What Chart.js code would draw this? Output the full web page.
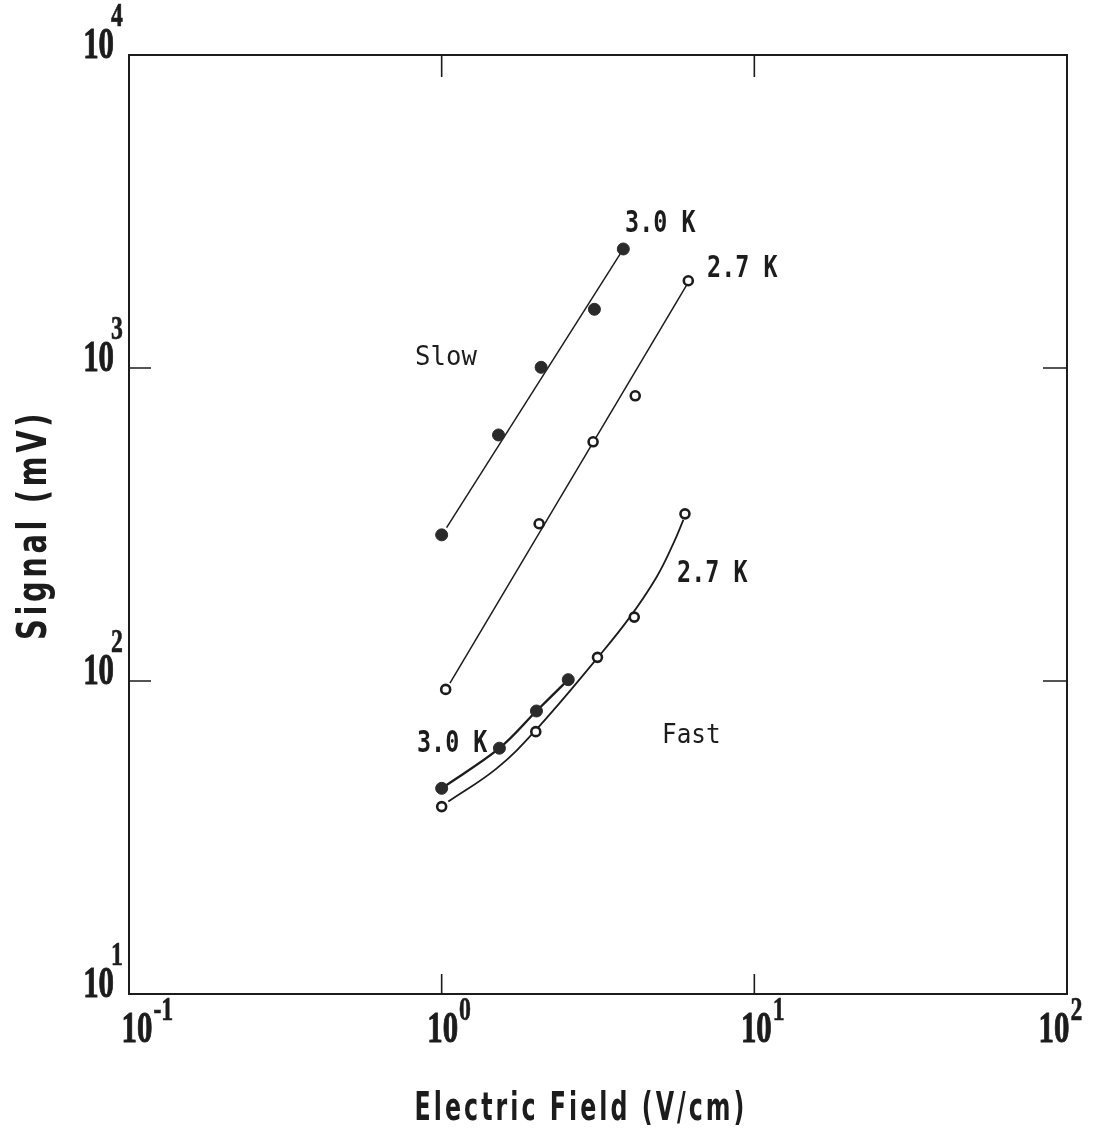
<!DOCTYPE html>
<html>
<head>
<meta charset="utf-8">
<script src="https://cdn.jsdelivr.net/npm/chart.js@4.4.0/dist/chart.umd.min.js"></script>
<style>
  body { margin: 0; background: #fff; }
  canvas { display: block; }
</style>
</head>
<body>
<canvas id="signalChart" width="1103" height="1132"></canvas>
<script>
// 資料 (Electric Field V/cm, Signal mV)
const slowField30 = [1.0, 1.52, 2.08, 3.08, 3.81];
const slowSignal30 = [293, 611, 1005, 1540, 2400];
const slowFitField30 = [1.037, 3.72];
const slowFitSignal30 = [309, 2312];

const slowField27 = [1.03, 2.05, 3.05, 4.16, 6.15];
const slowSignal27 = [94, 318, 581, 815, 1900];
const slowFitField27 = [1.063, 6.08];
const slowFitSignal27 = [98.5, 1842];

const fastField30 = [1.0, 1.53, 2.01, 2.54];
const fastSignal30 = [45.4, 61, 80.2, 101];

const fastField27 = [1.0, 2.0, 3.15, 4.13, 6.0];
const fastSignal27 = [39.7, 68.9, 119, 160, 342];
// 2.7 K fast 的手繪曲線
const fastCurveField27 = [1.05, 1.50, 2.00, 3.16, 4.00, 4.87, 5.51, 5.93];
const fastCurveSignal27 = [41.2, 52.6, 69.7, 119, 160, 215, 275, 327];

// 刻度
const xTicks = [0.1, 1, 10, 100];
const xTickExp = ['-1', '0', '1', '2'];
const yTicks = [10, 100, 1000, 10000];
const yTickExp = ['1', '2', '3', '4'];
const xInnerTicks = [1, 10];
const yInnerTicks = [100, 1000];

// 圖內文字 (資料座標)
const curveLabels = [
  { text: '3.0 K', x: 3.86, y: 2720, bold: true },
  { text: '2.7 K', x: 7.06, y: 1953, bold: true },
  { text: 'Slow', x: 0.822, y: 1022, bold: false },
  { text: '2.7 K', x: 5.66, y: 207, bold: true },
  { text: '3.0 K', x: 0.834, y: 59.3, bold: true },
  { text: 'Fast', x: 5.07, y: 63.4, bold: false }
];

function toPoints(xs, ys) {
  return xs.map((v, i) => ({ x: v, y: ys[i] }));
}

const INK = '#1c1c1c';

function drawScaled(ctx, text, x, y, font, sx, align, stroke) {
  ctx.save();
  ctx.font = font;
  ctx.translate(x, y);
  ctx.scale(sx, 1);
  ctx.textAlign = align || 'left';
  ctx.textBaseline = 'alphabetic';
  ctx.fillText(text, 0, 0);
  if (stroke) {
    ctx.lineWidth = stroke;
    ctx.strokeText(text, 0, 0);
  }
  ctx.restore();
}

// 依目標寬度壓縮文字
function drawFitted(ctx, text, cx, cy, width, font, spacing, rotate) {
  ctx.save();
  ctx.font = font;
  if ('letterSpacing' in ctx) ctx.letterSpacing = spacing + 'px';
  const natural = ctx.measureText(text).width;
  ctx.translate(cx, cy);
  if (rotate) ctx.rotate(-Math.PI / 2);
  ctx.scale(width / natural, 1);
  ctx.textAlign = 'left';
  ctx.textBaseline = 'alphabetic';
  ctx.fillText(text, -natural / 2, 0);
  ctx.restore();
}

const framePlugin = {
  id: 'frame',
  afterDatasetsDraw(chart) {
    const ctx = chart.ctx;
    const a = chart.chartArea;
    const sx = chart.scales.x;
    const sy = chart.scales.y;

    ctx.save();
    ctx.strokeStyle = INK;
    ctx.fillStyle = INK;
    ctx.lineWidth = 2;
    ctx.strokeRect(a.left, a.top, a.right - a.left, a.bottom - a.top);

    ctx.lineWidth = 1.6;
    ctx.beginPath();
    xInnerTicks.forEach(v => {
      const px = sx.getPixelForValue(v);
      ctx.moveTo(px, a.bottom); ctx.lineTo(px, a.bottom - 20);
      ctx.moveTo(px, a.top); ctx.lineTo(px, a.top + 22);
    });
    yInnerTicks.forEach(v => {
      const py = sy.getPixelForValue(v);
      ctx.moveTo(a.left, py); ctx.lineTo(a.left + 22, py);
      ctx.moveTo(a.right, py); ctx.lineTo(a.right - 24, py);
    });
    ctx.stroke();

    // x 軸刻度文字
    const xShift = [8, 1, 2, -13];
    const baseFont = 'bold 44px "Liberation Serif", serif';
    const expFont = 'bold 33px "Liberation Serif", serif';
    ctx.font = baseFont;
    const tenW = ctx.measureText('10').width * 0.7;
    xTicks.forEach((v, i) => {
      const cx = sx.getPixelForValue(v) + xShift[i];
      drawScaled(ctx, '10', cx, a.bottom + 48, baseFont, 0.7, 'center', 1);
      drawScaled(ctx, xTickExp[i], cx + tenW / 2 + 1, a.bottom + 26, expFont, 0.72, 'left', 0.6);
    });

    // y 軸刻度文字
    yTicks.forEach((v, i) => {
      const py = sy.getPixelForValue(v);
      const right = a.left - 15;
      drawScaled(ctx, '10', right, py + 3, baseFont, 0.7, 'right', 1);
      drawScaled(ctx, yTickExp[i], right - 3, py - 29, expFont, 0.72, 'left', 0.6);
    });

    // 圖內標籤
    curveLabels.forEach(l => {
      const px = sx.getPixelForValue(l.x);
      const py = sy.getPixelForValue(l.y);
      if (l.bold) {
        drawScaled(ctx, l.text, px, py, 'bold 30px "DejaVu Sans Mono", monospace', 0.78, 'left');
      } else {
        drawScaled(ctx, l.text, px, py, '27px "DejaVu Sans Mono", monospace', l.text === 'Slow' ? 0.95 : 0.9, 'left');
      }
    });

    // 軸標題
    drawFitted(ctx, 'Electric Field (V/cm)', 581, 1120, 333, 'bold 39px "DejaVu Sans", sans-serif', 5, false);
    drawFitted(ctx, 'Signal (mV)', 46, 525, 230, 'bold 40px "DejaVu Sans", sans-serif', 5, true);
    ctx.restore();
  }
};

const ctx = document.getElementById('signalChart').getContext('2d');
new Chart(ctx, {
  type: 'scatter',
  data: {
    datasets: [
      {
        label: 'Slow 3.0 K',
        data: toPoints(slowField30, slowSignal30),
        showLine: false,
        pointRadius: 6,
        pointBackgroundColor: '#2a2a2a',
        pointBorderColor: '#2a2a2a',
        pointBorderWidth: 1
      },
      {
        label: 'Slow 2.7 K',
        data: toPoints(slowField27, slowSignal27),
        showLine: false,
        pointRadius: 4.5,
        pointBackgroundColor: '#fff',
        pointBorderColor: INK,
        pointBorderWidth: 2.6
      },
      {
        label: 'Fast 3.0 K',
        data: toPoints(fastField30, fastSignal30),
        showLine: true,
        tension: 0.35,
        borderColor: INK,
        borderWidth: 2.4,
        pointRadius: 6,
        pointBackgroundColor: '#2a2a2a',
        pointBorderColor: '#2a2a2a',
        pointBorderWidth: 1
      },
      {
        label: 'Fast 2.7 K',
        data: toPoints(fastField27, fastSignal27),
        showLine: false,
        pointRadius: 4.5,
        pointBackgroundColor: '#fff',
        pointBorderColor: INK,
        pointBorderWidth: 2.6
      },
      {
        label: 'Fast 2.7 K curve',
        data: toPoints(fastCurveField27, fastCurveSignal27),
        showLine: true,
        tension: 0.4,
        borderColor: INK,
        borderWidth: 1.8,
        pointRadius: 0
      },
      {
        label: 'Slow 3.0 K fit',
        data: toPoints(slowFitField30, slowFitSignal30),
        showLine: true,
        borderColor: INK,
        borderWidth: 1.5,
        pointRadius: 0
      },
      {
        label: 'Slow 2.7 K fit',
        data: toPoints(slowFitField27, slowFitSignal27),
        showLine: true,
        borderColor: INK,
        borderWidth: 1.5,
        pointRadius: 0
      }
    ]
  },
  options: {
    responsive: false,
    animation: false,
    layout: {
      padding: { left: 129, right: 36, top: 55, bottom: 138 }
    },
    plugins: {
      legend: { display: false },
      tooltip: { enabled: false }
    },
    scales: {
      x: { type: 'logarithmic', min: 0.1, max: 100, display: false },
      y: { type: 'logarithmic', min: 10, max: 10000, display: false }
    }
  },
  plugins: [framePlugin]
});
</script>
</body>
</html>
